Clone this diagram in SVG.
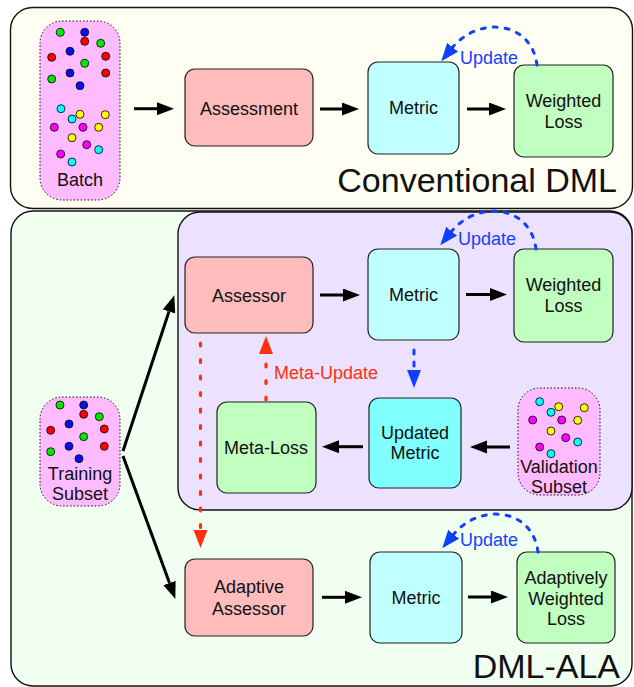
<svg xmlns="http://www.w3.org/2000/svg" width="634" height="687" viewBox="0 0 634 687">
<style>
text{font-family:"Liberation Sans",Arial,Helvetica,sans-serif;font-size:18px;fill:#111;text-anchor:middle}
.panel{stroke:#111;stroke-width:1.4}
.subset{fill:#FFBBFF;stroke:#111;stroke-width:1;stroke-dasharray:1.5 2}
.box{stroke:#222;stroke-width:1.2}
.assess{fill:#FFBCBC}
.metric{fill:#C0FFFF}
.umetric{fill:#80FFFF}
.loss{fill:#C0FFC0}
.dot{stroke:#111;stroke-width:0.9}
.g{fill:#00E800}.r{fill:#FF0000}.b{fill:#0010F0}.c{fill:#00FFFF}.y{fill:#FFFF00}.m{fill:#FF00FF}
.arr{stroke:#000;stroke-width:3;fill:none;marker-end:url(#hk)}
.blue{stroke:#1040FF;stroke-width:3;fill:none;stroke-linecap:round;stroke-dasharray:4 8;marker-end:url(#hb)}
.red{stroke:#FF3010;stroke-width:3.2;fill:none;stroke-linecap:round;stroke-dasharray:3 13.5;marker-end:url(#hr)}
.big{font-size:34px;text-anchor:end}
.upd{fill:#1A40FF}
.mupd{fill:#FF3010;text-anchor:start}
</style>
<defs>
<marker id="hk" markerUnits="userSpaceOnUse" markerWidth="18" markerHeight="14" refX="0" refY="6.5" orient="auto"><path d="M0,0 L17,6.5 L0,13 z" fill="#000"/></marker>
<marker id="hb" markerUnits="userSpaceOnUse" markerWidth="19" markerHeight="15" refX="1" refY="7" orient="auto"><path d="M0,0 L18,7 L0,14 z" fill="#1040FF"/></marker>
<marker id="hr" markerUnits="userSpaceOnUse" markerWidth="19" markerHeight="15" refX="1" refY="7" orient="auto"><path d="M0,0 L18,7 L0,14 z" fill="#FF3010"/></marker>
</defs>

<g id="panel-conventional">
<rect class="panel" x="10.5" y="7.5" width="622" height="201" rx="22" fill="#FEFEF2"/>
<text class="big" x="617" y="192">Conventional DML</text>
</g>
<g id="panel-dmlala">
<rect class="panel" x="11" y="211" width="621" height="475" rx="22" fill="#F1FFF1"/>
<text class="big" x="620" y="678">DML-ALA</text>
</g>
<g id="panel-meta">
<rect class="panel" x="178" y="212" width="454" height="298" rx="22" fill="#ECE2FF"/>
</g>

<g id="batch">
<rect class="subset" x="40" y="21" width="80" height="179" rx="22"/>
<circle class="dot g" cx="60.3" cy="32.3" r="4"/>
<circle class="dot b" cx="84.7" cy="32.3" r="4"/>
<circle class="dot r" cx="84.7" cy="41.3" r="4"/>
<circle class="dot g" cx="100.7" cy="43.3" r="4"/>
<circle class="dot b" cx="70" cy="51.3" r="4"/>
<circle class="dot r" cx="51.7" cy="57.3" r="4"/>
<circle class="dot r" cx="105.7" cy="56.3" r="4"/>
<circle class="dot g" cx="84.7" cy="63.3" r="4"/>
<circle class="dot b" cx="70" cy="73" r="4"/>
<circle class="dot r" cx="105.7" cy="73" r="4"/>
<circle class="dot g" cx="51.7" cy="79" r="4"/>
<circle class="dot b" cx="80" cy="85.7" r="4"/>
<circle class="dot c" cx="61" cy="108.7" r="4"/>
<circle class="dot y" cx="80" cy="114.3" r="4"/>
<circle class="dot c" cx="72" cy="119" r="4"/>
<circle class="dot y" cx="105.3" cy="114.7" r="4"/>
<circle class="dot m" cx="54.3" cy="127.3" r="4"/>
<circle class="dot m" cx="83" cy="127.3" r="4"/>
<circle class="dot y" cx="98.7" cy="127.3" r="4"/>
<circle class="dot y" cx="72" cy="137.7" r="4"/>
<circle class="dot m" cx="86.7" cy="144.7" r="4"/>
<circle class="dot c" cx="98.7" cy="149.7" r="4"/>
<circle class="dot m" cx="60.7" cy="154" r="4"/>
<circle class="dot c" cx="72" cy="162" r="4"/>
<text x="80" y="186">Batch</text>
</g>

<g id="assessment">
<rect class="box assess" x="185" y="69" width="128" height="77" rx="10"/>
<text x="249" y="114.5">Assessment</text>
</g>
<g id="metric1">
<rect class="box metric" x="368" y="62" width="91" height="92" rx="10"/>
<text x="413.5" y="114">Metric</text>
</g>
<g id="wloss1">
<rect class="box loss" x="514" y="65" width="99" height="92" rx="10"/>
<text x="563.5" y="107">Weighted</text>
<text x="563.5" y="128">Loss</text>
</g>

<g id="assessor">
<rect class="box assess" x="185" y="257" width="128" height="76" rx="10"/>
<text x="249" y="302">Assessor</text>
</g>
<g id="metric2">
<rect class="box metric" x="368" y="249" width="91" height="91" rx="10"/>
<text x="413.5" y="301">Metric</text>
</g>
<g id="wloss2">
<rect class="box loss" x="514" y="249" width="99" height="93" rx="10"/>
<text x="563.5" y="291">Weighted</text>
<text x="563.5" y="312">Loss</text>
</g>

<g id="metaloss">
<rect class="box loss" x="217" y="402" width="99" height="91" rx="10"/>
<text x="266" y="453.5">Meta-Loss</text>
</g>
<g id="updatedmetric">
<rect class="box umetric" x="369" y="398" width="92" height="90" rx="10"/>
<text x="415" y="439">Updated</text>
<text x="415" y="459">Metric</text>
</g>

<g id="validation">
<rect class="subset" x="518" y="388" width="82" height="107" rx="22"/>
<circle class="dot c" cx="539.7" cy="401.7" r="4"/>
<circle class="dot y" cx="558.7" cy="406.7" r="4"/>
<circle class="dot c" cx="551" cy="412.3" r="4"/>
<circle class="dot y" cx="584.3" cy="407.7" r="4"/>
<circle class="dot m" cx="532.7" cy="420" r="4"/>
<circle class="dot m" cx="561.7" cy="420" r="4"/>
<circle class="dot y" cx="577.7" cy="420.3" r="4"/>
<circle class="dot y" cx="551" cy="431" r="4"/>
<circle class="dot m" cx="565.7" cy="437.7" r="4"/>
<circle class="dot c" cx="577.7" cy="442" r="4"/>
<circle class="dot m" cx="539.7" cy="447" r="4"/>
<circle class="dot c" cx="551" cy="453.7" r="4"/>
<text x="559" y="472.5">Validation</text>
<text x="559" y="492.5">Subset</text>
</g>

<g id="training">
<rect class="subset" x="40" y="397" width="80" height="109" rx="22"/>
<circle class="dot g" cx="60" cy="405" r="4"/>
<circle class="dot b" cx="83.7" cy="405" r="4"/>
<circle class="dot r" cx="83.7" cy="414.3" r="4"/>
<circle class="dot g" cx="99.3" cy="416.7" r="4"/>
<circle class="dot b" cx="69" cy="424" r="4"/>
<circle class="dot r" cx="50.7" cy="430.3" r="4"/>
<circle class="dot r" cx="104.3" cy="429" r="4"/>
<circle class="dot g" cx="83.7" cy="436.7" r="4"/>
<circle class="dot g" cx="50.7" cy="451.7" r="4"/>
<circle class="dot b" cx="69" cy="446.3" r="4"/>
<circle class="dot r" cx="104.3" cy="446.3" r="4"/>
<circle class="dot b" cx="79" cy="458.7" r="4"/>
<text x="80" y="480">Training</text>
<text x="80" y="500">Subset</text>
</g>

<g id="adaptiveassessor">
<rect class="box assess" x="185" y="559" width="128" height="77" rx="10"/>
<text x="249" y="592.5">Adaptive</text>
<text x="249" y="614.5">Assessor</text>
</g>
<g id="metric3">
<rect class="box metric" x="370" y="552" width="92" height="91" rx="10"/>
<text x="416" y="603.5">Metric</text>
</g>
<g id="awloss">
<rect class="box loss" x="517" y="552" width="98" height="91" rx="10"/>
<text x="566" y="583.5">Adaptively</text>
<text x="566" y="604.5">Weighted</text>
<text x="566" y="624.5">Loss</text>
</g>

<g id="connectors">
<line class="arr" x1="134" y1="108.7" x2="157" y2="108.7"/>
<line class="arr" x1="320" y1="109" x2="342" y2="109"/>
<line class="arr" x1="467" y1="109" x2="489" y2="109"/>
<line class="arr" x1="320" y1="295" x2="343" y2="295"/>
<line class="arr" x1="466" y1="294.5" x2="490" y2="294.5"/>
<line class="arr" x1="363" y1="446.7" x2="339" y2="446.7"/>
<line class="arr" x1="510" y1="447" x2="487" y2="447"/>
<line class="arr" x1="322" y1="597.3" x2="345" y2="597.3"/>
<line class="arr" x1="468" y1="597" x2="491" y2="597"/>
<line class="arr" x1="123" y1="451" x2="169" y2="311.5"/>
<line class="arr" x1="123" y1="456" x2="169.5" y2="583"/>

<path class="blue" d="M537,65 C531,20 478,16 452,48"/>
<text class="upd" x="489" y="63.5">Update</text>
<path class="blue" d="M536,249 C530,204 477,200 451,232"/>
<text class="upd" x="487" y="244.5">Update</text>
<path class="blue" d="M538,552 C532,507 479,503 453,535"/>
<text class="upd" x="489" y="546">Update</text>

<line class="blue" x1="414" y1="350" x2="414" y2="371"/>

<line class="red" x1="266" y1="400" x2="266" y2="353"/>
<text class="mupd" x="274" y="378.5">Meta-Update</text>
<line class="red" x1="200.5" y1="343" x2="200.5" y2="531"/>
</g>
</svg>
